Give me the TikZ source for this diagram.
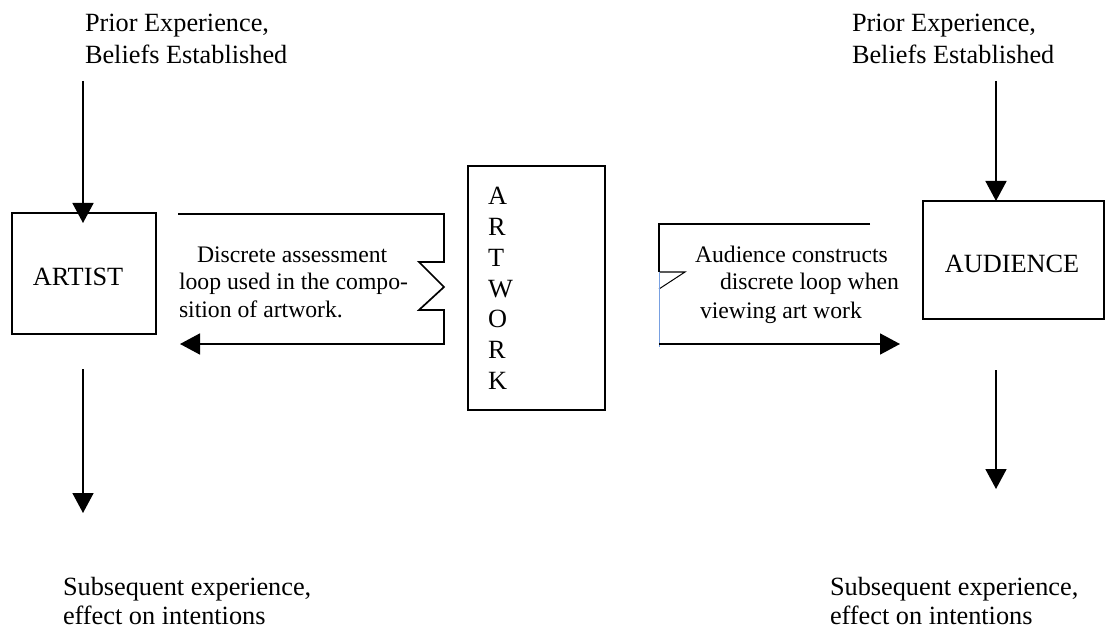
\documentclass[tikz,border=0pt]{standalone}
\usepackage{fontspec}
\setmainfont{Liberation Serif}
\usetikzlibrary{arrows.meta}
\begin{document}
\begin{tikzpicture}[x=1pt,y=-1pt,
  every node/.style={inner sep=0pt, outer sep=0pt},
  big/.style={font=\fontsize{26.3}{30}\selectfont},
  small/.style={font=\fontsize{23.7}{27.5}\selectfont},
  txt/.style={big, anchor=base west},
  stxt/.style={small, anchor=base west},
  box/.style={draw, line width=1.7pt},
  ln/.style={line width=1.7pt},
  thin/.style={line width=1pt},
  blueline/.style={line width=1pt, draw={rgb,255:red,120;green,160;blue,225}},
  arr/.style={line width=1.7pt, -{Triangle[length=20pt,width=21pt]}},
]
\useasboundingbox (0,0) rectangle (1106,639);

% boxes
\node[box, minimum width=144pt, minimum height=121pt] (artist) at (84,273.5) {};
\node[big] (artistlbl) at (78,277) {ARTIST};
\node[box, minimum width=181pt, minimum height=118pt] (audience) at (1013.5,260) {};
\node[big] (audiencelbl) at (1012,264) {AUDIENCE};
\node[box, minimum width=137pt, minimum height=244pt, anchor=north west] (artwork) at (468,166) {};
\foreach \l [count=\i from 0] in {A,R,T,W,O,R,K}
  \node[txt] (aw\i) at (488,{205+30.7*\i}) {\l};

% top / bottom texts
\node[txt] (p1) at (85,32) {Prior Experience,};
\node[txt] (p2) at (85,64) {Beliefs Established};
\node[txt] (q1) at (852,32) {Prior Experience,};
\node[txt] (q2) at (852,64) {Beliefs Established};
\node[txt] (s1) at (63,595) {Subsequent experience,};
\node[txt] (s2) at (63,624) {effect on intentions};
\node[txt] (t1) at (830,595) {Subsequent experience,};
\node[txt] (t2) at (830,624) {effect on intentions};

% vertical arrows
\coordinate (atop) at (83,81);
\draw[arr, shorten >=-10pt] (atop) -- (atop |- artist.north);
\coordinate (abot) at (83,369);
\coordinate (abotend) at (83,513);
\draw[arr] (abot) -- (abotend);
\coordinate (rtop) at (996,81);
\draw[arr] (rtop) -- (rtop |- audience.north);
\coordinate (rbot) at (996,370);
\coordinate (rbotend) at (996,489);
\draw[arr] (rbot) -- (rbotend);

% left loop
\coordinate (l1) at (178,214);
\coordinate (l4) at (180,344);
\draw[arr] (l1) -- (444,214) -- (444,262) -- (419,262) -- (444,287) -- (419,310) -- (444,310) -- (444,344) -- (l4);
\node[stxt] (d1) at (197,262) {Discrete assessment};
\node[stxt] (d2) at (179,290) {loop used in the compo-};
\node[stxt] (d3) at (179,317) {sition of artwork.};

% right loop
\coordinate (r1) at (870,224);
\coordinate (r4) at (900,344);
\draw[ln] (r1) -- (659,224) -- (659,272);
\draw[thin] (659,272) -- (685,272) -- (659,289);
\draw[blueline] (659,272) -- (659,347);
\draw[arr] (659,344) -- (r4);
\node[stxt] (c1) at (695,262) {Audience constructs};
\node[stxt] (c2) at (720,290) {discrete loop when};
\node[stxt] (c3) at (700,318) {viewing art work};
\end{tikzpicture}
\end{document}
